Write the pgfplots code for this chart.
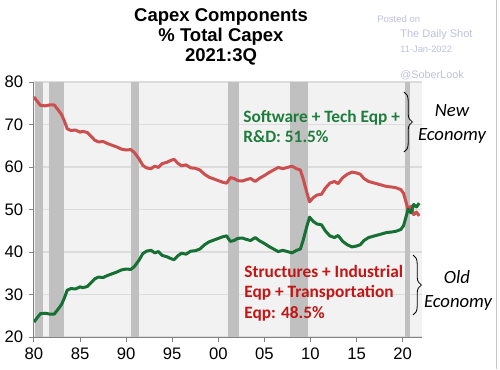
\documentclass[border=0pt]{standalone}
\usepackage{pgfplots}
\pgfplotsset{compat=1.18}
\usepackage{fontspec}
\setmainfont{Liberation Sans}
\newfontfamily\calfont{Carlito}
\usetikzlibrary{decorations.pathreplacing}
\definecolor{redline}{RGB}{204,78,78}
\definecolor{greenline}{RGB}{22,112,52}
\definecolor{redtext}{RGB}{196,20,20}
\definecolor{greentext}{RGB}{30,125,60}
\definecolor{recgray}{RGB}{192,192,192}
\definecolor{bgc}{RGB}{242,242,242}
\definecolor{gridc}{RGB}{220,220,220}
\definecolor{wm}{RGB}{190,192,225}
\definecolor{axc}{RGB}{130,130,130}

\pgfplotstableread{
year val
1980.0 76.5
1980.3 75.6
1980.7 74.5
1981.2 74.4
1981.7 74.6
1982.2 74.6
1982.6 73.5
1983.0 72.3
1983.3 70.8
1983.6 69.0
1984.0 68.6
1984.5 68.7
1985.0 68.2
1985.3 68.4
1985.8 68.1
1986.2 67.2
1986.6 66.3
1987.0 65.9
1987.5 66.0
1988.0 65.5
1988.5 65.1
1989.0 64.7
1989.5 64.2
1990.0 64.0
1990.5 64.1
1990.9 63.4
1991.4 61.9
1991.8 60.4
1992.2 59.8
1992.7 59.6
1993.1 60.2
1993.5 59.9
1993.9 60.8
1994.4 61.1
1994.9 61.6
1995.2 61.8
1995.6 60.9
1996.0 60.3
1996.5 60.5
1997.0 59.8
1997.5 59.7
1998.0 59.3
1998.5 58.3
1999.0 57.6
1999.5 57.2
2000.0 56.8
2000.5 56.4
2000.9 56.2
2001.3 57.5
2001.7 57.3
2002.1 56.8
2002.6 56.7
2003.0 57.0
2003.5 57.3
2004.0 56.6
2004.5 57.4
2005.0 58.0
2005.5 58.7
2006.0 59.3
2006.5 59.9
2007.0 59.6
2007.5 59.9
2008.0 60.2
2008.5 59.6
2008.9 59.3
2009.2 57.3
2009.6 54.0
2009.9 51.8
2010.3 52.8
2010.7 53.4
2011.2 53.6
2011.6 55.0
2012.1 56.2
2012.6 56.6
2013.0 56.1
2013.5 57.5
2014.0 58.3
2014.5 58.8
2015.0 58.6
2015.4 58.3
2015.8 57.3
2016.3 56.6
2016.8 56.3
2017.3 56.0
2017.8 55.7
2018.3 55.4
2018.8 55.3
2019.3 55.1
2019.8 54.7
2020.1 53.8
2020.4 51.5
2020.6 49.9
2020.9 50.8
2021.2 48.8
2021.5 49.4
2021.8 48.5
}\oldeco

\pgfplotstableread{
year val
1980.0 23.5
1980.3 24.4
1980.7 25.5
1981.2 25.6
1981.7 25.4
1982.2 25.4
1982.6 26.5
1983.0 27.7
1983.3 29.2
1983.6 31.0
1984.0 31.4
1984.5 31.3
1985.0 31.8
1985.3 31.6
1985.8 31.9
1986.2 32.8
1986.6 33.7
1987.0 34.1
1987.5 34.0
1988.0 34.5
1988.5 34.9
1989.0 35.3
1989.5 35.8
1990.0 36.0
1990.5 35.9
1990.9 36.6
1991.4 38.1
1991.8 39.6
1992.2 40.2
1992.7 40.4
1993.1 39.8
1993.5 40.1
1993.9 39.2
1994.4 38.9
1994.9 38.4
1995.2 38.2
1995.6 39.1
1996.0 39.7
1996.5 39.5
1997.0 40.2
1997.5 40.3
1998.0 40.7
1998.5 41.7
1999.0 42.4
1999.5 42.8
2000.0 43.2
2000.5 43.6
2000.9 43.8
2001.3 42.5
2001.7 42.7
2002.1 43.2
2002.6 43.3
2003.0 43.0
2003.5 42.7
2004.0 43.4
2004.5 42.6
2005.0 42.0
2005.5 41.3
2006.0 40.7
2006.5 40.1
2007.0 40.4
2007.5 40.1
2008.0 39.8
2008.5 40.4
2008.9 40.7
2009.2 42.7
2009.6 46.0
2009.9 48.2
2010.3 47.2
2010.7 46.6
2011.2 46.4
2011.6 45.0
2012.1 43.8
2012.6 43.4
2013.0 43.9
2013.5 42.5
2014.0 41.7
2014.5 41.2
2015.0 41.4
2015.4 41.7
2015.8 42.7
2016.3 43.4
2016.8 43.7
2017.3 44.0
2017.8 44.3
2018.3 44.6
2018.8 44.7
2019.3 44.9
2019.8 45.3
2020.1 46.2
2020.4 48.5
2020.6 50.1
2020.9 49.2
2021.2 51.2
2021.5 50.6
2021.8 51.5
}\neweco

\begin{document}
\begin{tikzpicture}[x=0.6pt,y=0.6pt]
\path[use as bounding box] (0,0) rectangle (500,369);
\begin{axis}[
  at={(20.4pt,19.2pt)}, anchor=south west,
  scale only axis, width=232.8pt, height=153pt,
  xmin=1980, xmax=2022.1, ymin=20, ymax=80,
  axis lines*=left,
  axis line style={axc, line width=0.6pt},
  axis background/.style={fill=bgc},
  xtick={1980,1985,1990,1995,2000,2005,2010,2015,2020},
  xticklabels={80,85,90,95,00,05,10,15,20},
  ytick={20,30,40,50,60,70,80},
  tick align=outside, major tick length=3pt,
  tick style={axc, line width=0.6pt},
  ymajorgrids, grid style={gridc, line width=0.7pt},
  tick label style={font=\fontsize{10}{12}\selectfont},
  /pgf/number format/assume math mode=true,
  clip=true,
]
\addplot[fill=recgray, draw=none] coordinates {(1980.1,80) (1981.0,80)} \closedcycle;
\addplot[fill=recgray, draw=none] coordinates {(1981.6,80) (1983.25,80)} \closedcycle;
\addplot[fill=recgray, draw=none] coordinates {(1990.5,80) (1991.4,80)} \closedcycle;
\addplot[fill=recgray, draw=none] coordinates {(2001.05,80) (2002.25,80)} \closedcycle;
\addplot[fill=recgray, draw=none] coordinates {(2007.75,80) (2009.75,80)} \closedcycle;
\addplot[fill=recgray, draw=none] coordinates {(2020.25,80) (2020.8,80)} \closedcycle;
\addplot[redline, line width=1.8pt, line join=round] table[x=year,y=val] {\oldeco};
\addplot[greenline, line width=1.8pt, line join=round] table[x=year,y=val] {\neweco};
\end{axis}

% title
\node[anchor=base, font=\bfseries\fontsize{11.1}{13}\selectfont] at (221,348) {Capex Components};
\node[anchor=base, font=\bfseries\fontsize{11.1}{13}\selectfont] at (221,328) {\% Total Capex};
\node[anchor=base, font=\bfseries\fontsize{11.1}{13}\selectfont] at (221,308) {2021:3Q};

% watermark
\node[anchor=base west, text=wm, font=\fontsize{5.7}{7}\selectfont, inner sep=0] at (377,347) {Posted on};
\node[anchor=base west, text=wm, font=\fontsize{6.6}{8}\selectfont, inner sep=0] at (400,332) {The Daily Shot};
\node[anchor=base west, text=wm, font=\fontsize{5.6}{7}\selectfont, inner sep=0] at (400,317) {11-Jan-2022};
\node[anchor=base west, text=wm, font=\fontsize{6.5}{8}\selectfont, inner sep=0] at (400,291) {@SoberLook};

% annotations
\node[anchor=base west, text=greentext, font=\calfont\bfseries\fontsize{10.4}{12}\selectfont, inner sep=0] at (243,246.3) {Software + Tech Eqp +};
\node[anchor=base west, text=greentext, font=\calfont\bfseries\fontsize{10.4}{12}\selectfont, inner sep=0] at (243,226.3) {R\&D: 51.5\%};
\node[anchor=base west, text=redtext, font=\calfont\bfseries\fontsize{10.4}{12}\selectfont, inner sep=0] at (244,91.7) {Structures + Industrial};
\node[anchor=base west, text=redtext, font=\calfont\bfseries\fontsize{10.4}{12}\selectfont, inner sep=0] at (244,71.3) {Eqp + Transportation};
\node[anchor=base west, text=redtext, font=\calfont\bfseries\fontsize{10.4}{12}\selectfont, inner sep=0] at (244,50.7) {Eqp: 48.5\%};

\node[anchor=base, font=\calfont\itshape\fontsize{11.2}{13}\selectfont, inner sep=0] at (452,252.3) {New};
\node[anchor=base, font=\calfont\itshape\fontsize{11.2}{13}\selectfont, inner sep=0] at (452,229) {Economy};
\node[anchor=base, font=\calfont\itshape\fontsize{11.2}{13}\selectfont, inner sep=0] at (457,86) {Old};
\node[anchor=base, font=\calfont\itshape\fontsize{11.2}{13}\selectfont, inner sep=0] at (458,62) {Economy};

% braces
\draw[decorate, decoration={brace, amplitude=5pt}, line width=0.5pt] (404,277) -- (404,217);
\draw[decorate, decoration={brace, amplitude=5pt}, line width=0.5pt] (413,114) -- (413,54);

% frame line at right
\draw[gray!45, line width=0.6pt] (496.5,0) -- (496.5,369);
\end{tikzpicture}
\end{document}
